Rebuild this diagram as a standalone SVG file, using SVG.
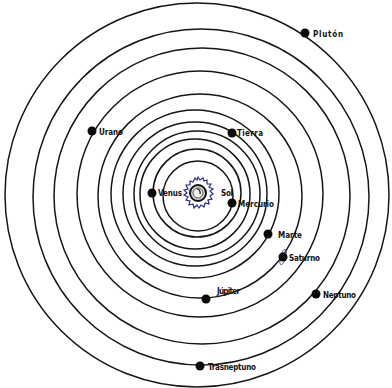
<svg xmlns="http://www.w3.org/2000/svg" width="392" height="388" viewBox="0 0 392 388">
<style>
.orb{fill:none;stroke:#161616;stroke-width:1.5}
.dot{fill:#0a0a0a}
.lbl{font-family:'DejaVu Sans Condensed','Liberation Sans Narrow','Liberation Sans',sans-serif;font-weight:bold;font-size:8px;fill:#111}
</style>
<rect width="392" height="388" fill="#ffffff"/>
<g id="orbits">
<circle class="orb" cx="197" cy="195" r="192"/>
<circle class="orb" cx="201" cy="197" r="168"/>
<circle class="orb" cx="202" cy="196" r="148"/>
<circle class="orb" cx="200" cy="194" r="123"/>
<circle class="orb" cx="200" cy="196" r="102"/>
<circle class="orb" cx="195" cy="194" r="84"/>
<circle class="orb" cx="195" cy="194" r="72"/>
<circle class="orb" cx="197" cy="194" r="63"/>
<circle class="orb" cx="195" cy="194" r="55"/>
<circle class="orb" cx="197" cy="193" r="44"/>
<circle class="orb" cx="198" cy="196" r="35"/>
</g>
<g id="sol">
<path d="M198,177 L200,180 L203,178 L204,181 L207,180 L207,184 L211,184 L209,187 L213,189 L210,191 L213,194 L210,196 L212,199 L208,200 L209,204 L205,203 L204,207 L201,205 L199,208 L197,205 L194,208 L193,204 L189,205 L190,201 L186,200 L188,197 L184,195 L187,193 L184,190 L188,189 L186,185 L190,185 L190,181 L193,182 L195,178 L197,180 Z" fill="none" stroke="#2a2a8a" stroke-width="1.2"/>
<circle cx="198" cy="193" r="8" fill="#d8d8d8" stroke="#111" stroke-width="2"/>
<circle cx="198" cy="193" r="5" fill="#f0f0f0" stroke="#555" stroke-width="1"/>
<path d="M197,189 Q201,190 200,194" fill="none" stroke="#111" stroke-width="1.2"/>
<text class="lbl" x="221" y="196" textLength="12">Sol</text>
</g>
<g id="mercurio"><circle class="dot" cx="232" cy="203" r="4.5"/><text class="lbl" x="238" y="207" textLength="36">Mercurio</text></g>
<g id="venus"><circle class="dot" cx="152" cy="193" r="4.5"/><text class="lbl" x="158" y="196" textLength="24">Venus</text></g>
<g id="tierra"><circle class="dot" cx="232" cy="133" r="4.5"/><text class="lbl" x="237" y="136" textLength="26">Tierra</text></g>
<g id="marte"><circle class="dot" cx="268" cy="234" r="4.5"/><text class="lbl" x="278" y="238" textLength="24">Marte</text></g>
<g id="jupiter"><circle class="dot" cx="206" cy="299" r="4.5"/><text class="lbl" x="217" y="294" textLength="23">Júpiter</text></g>
<g id="saturno"><ellipse cx="283" cy="257" rx="2.5" ry="8" fill="none" stroke="#444488" stroke-width="0.8" transform="rotate(15 283 257)"/><circle class="dot" cx="283" cy="257" r="4.5"/><text class="lbl" x="289" y="261" textLength="31">Saturno</text></g>
<g id="urano"><circle class="dot" cx="92" cy="131" r="4.5"/><text class="lbl" x="99" y="135" textLength="24">Urano</text></g>
<g id="neptuno"><circle class="dot" cx="316" cy="294" r="4.5"/><text class="lbl" x="323" y="298" textLength="33">Neptuno</text></g>
<g id="trasneptuno"><circle class="dot" cx="200" cy="366" r="4.5"/><text class="lbl" x="208" y="370" textLength="48">Trasneptuno</text></g>
<g id="pluton"><circle class="dot" cx="305" cy="33" r="4.5"/><text class="lbl" x="313" y="37" textLength="30">Plutón</text></g>
</svg>
